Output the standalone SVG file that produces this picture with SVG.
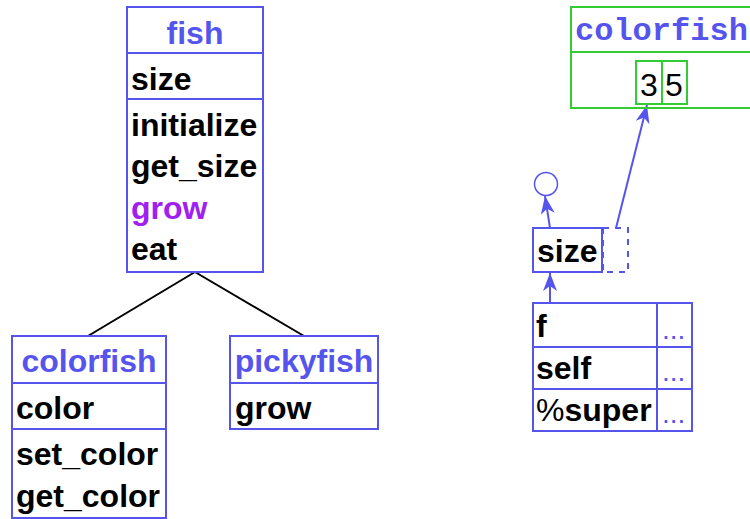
<svg xmlns="http://www.w3.org/2000/svg" width="750" height="519" viewBox="0 0 750 519">
<defs>
<style>
.box{fill:none;stroke:#5555ee;stroke-width:2}
.gbox{fill:none;stroke:#33cc33;stroke-width:2}
.t{font-family:"Liberation Sans",Arial,sans-serif;font-weight:bold;font-size:32px;fill:#000}
.title{font-family:"Liberation Sans",Arial,sans-serif;font-weight:bold;font-size:32px;fill:#5555ee;text-anchor:middle}
.mono{font-family:"Liberation Mono","Courier New",monospace;font-weight:bold;font-size:32px;fill:#5555ee}
.num{font-family:"Liberation Sans",Arial,sans-serif;font-size:32px;fill:#000}
.dots{font-family:"Liberation Sans",Arial,sans-serif;font-size:28px;fill:#5555ee}
.tree{stroke:#000;stroke-width:2;fill:none}
.ptr{stroke:#5555ee;stroke-width:2;fill:none}
</style>
<marker id="ah" viewBox="0 0 18 14" refX="18" refY="7" markerWidth="18" markerHeight="14" markerUnits="userSpaceOnUse" orient="auto">
<path d="M0,0 L18,7 L0,14 L5,7 Z" fill="#5555ee"/>
</marker>
</defs>

<g id="connectors">
<line class="tree" x1="195" y1="272" x2="88" y2="336"/>
<line class="tree" x1="195" y1="272" x2="304" y2="336"/>
<line class="ptr" x1="616" y1="228" x2="647" y2="105" marker-end="url(#ah)"/>
<line class="ptr" x1="550" y1="228" x2="545" y2="196" marker-end="url(#ah)"/>
<line class="ptr" x1="550" y1="303" x2="550" y2="273" marker-end="url(#ah)"/>
</g>

<g id="fish">
<rect class="box" x="127" y="7" width="136" height="265"/>
<line class="box" x1="127" y1="53" x2="263" y2="53"/>
<line class="box" x1="127" y1="99" x2="263" y2="99"/>
<text class="title" x="195" y="44">fish</text>
<text class="t" x="131" y="90">size</text>
<text class="t" x="131" y="136">initialize</text>
<text class="t" x="131" y="177">get_size</text>
<text class="t" x="131" y="219" style="fill:#a020f0">grow</text>
<text class="t" x="131" y="260">eat</text>
</g>

<g id="colorfish">
<rect class="box" x="12" y="336" width="154" height="182"/>
<line class="box" x1="12" y1="383" x2="166" y2="383"/>
<line class="box" x1="12" y1="429" x2="166" y2="429"/>
<text class="title" x="89" y="372">colorfish</text>
<text class="t" x="16" y="419">color</text>
<text class="t" x="16" y="465">set_color</text>
<text class="t" x="16" y="507">get_color</text>
</g>

<g id="pickyfish">
<rect class="box" x="230" y="336" width="148" height="93"/>
<line class="box" x1="230" y1="383" x2="378" y2="383"/>
<text class="title" x="304" y="372">pickyfish</text>
<text class="t" x="235" y="419">grow</text>
</g>

<g id="colorfish-object">
<rect class="gbox" x="571" y="7" width="190" height="101"/>
<line class="gbox" x1="571" y1="52" x2="761" y2="52"/>
<text class="mono" x="575" y="40">colorfish</text>
<rect class="gbox" x="636" y="61" width="26" height="43"/>
<rect class="gbox" x="662" y="61" width="25" height="43"/>
<text class="num" x="640" y="96">3</text>
<text class="num" x="665" y="96">5</text>
</g>

<g id="nil">
<circle cx="546" cy="184" r="11.5" fill="none" stroke="#5555ee" stroke-width="1.5"/>
</g>

<g id="size-var">
<rect class="box" x="533" y="228" width="69" height="44"/>
<rect x="603" y="228" width="25" height="44" fill="none" stroke="#5555ee" stroke-width="2" stroke-dasharray="6 6"/>
<text class="t" x="537" y="262">size</text>
</g>

<g id="frame">
<rect class="box" x="533" y="303" width="124" height="128"/>
<rect class="box" x="657" y="303" width="35" height="128"/>
<line class="box" x1="533" y1="347" x2="692" y2="347"/>
<line class="box" x1="533" y1="389" x2="692" y2="389"/>
<text class="t" x="536" y="337">f</text>
<text class="t" x="536" y="379">self</text>
<text class="t" x="536" y="421"><tspan style="font-weight:normal">%</tspan>super</text>
<text class="dots" x="662" y="339">...</text>
<text class="dots" x="662" y="381">...</text>
<text class="dots" x="662" y="423">...</text>
</g>
</svg>
